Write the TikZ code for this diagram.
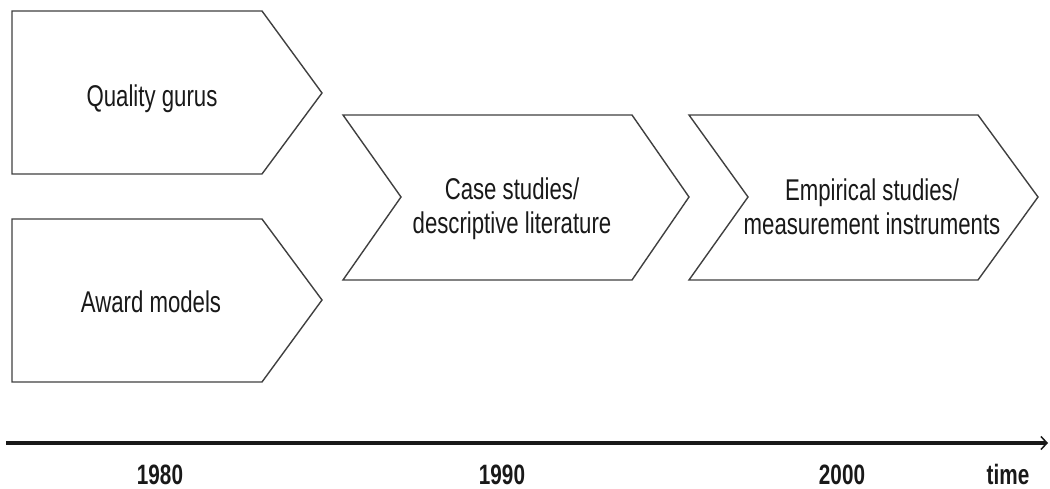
\documentclass[tikz,border=0pt]{standalone}
\usepackage{fontspec}
\setmainfont[FakeStretch=0.74]{Liberation Sans}
\usetikzlibrary{arrows.meta}
\begin{document}
\begin{tikzpicture}[x=1pt,y=1pt,
  phase/.style={draw=black!75, line width=1.4pt, line join=miter, fill=white},
  lbl/.style={font=\fontsize{30}{34}\selectfont, align=center, text=black!90, inner sep=0pt},
  yr/.style={font=\fontsize{28}{31}\selectfont\bfseries, text=black!90, inner sep=0pt, anchor=base}]
\useasboundingbox (0,0) rectangle (1050,489);
% phase shapes
\draw[phase] (12,478) -- (262,478) -- (322,396) -- (262,315) -- (12,315) -- cycle;
\draw[phase] (12,270) -- (262,270) -- (322,189) -- (262,107) -- (12,107) -- cycle;
\draw[phase] (343,374) -- (632,374) -- (689,292) -- (632,209) -- (343,209) -- (401,292) -- cycle;
\draw[phase] (689,374) -- (978,374) -- (1038,292) -- (978,209) -- (689,209) -- (748,292) -- cycle;
% labels
\node[lbl, anchor=base] (gurus) at (152,382) {Quality gurus};
\node[lbl, anchor=base] (award) at (151,176) {Award models};
\node[lbl] (cases) at (512,280) {Case studies/\\descriptive literature};
\node[lbl] (empir) at (872,282) {Empirical studies/\\measurement instruments};
% time axis
\coordinate (axs) at (6,46);
\coordinate (axe) at (1048,46);
\draw[line width=3.4pt, draw=black!90, -{Straight Barb[length=6pt,width=13pt,line width=1.5pt]}] (axs) -- (axe);
\node[yr] (y80) at (160,4) {1980};
\node[yr] (y90) at (502,4) {1990};
\node[yr] (y00) at (842,4) {2000};
\node[yr] (tm) at (1008,4) {time};
\end{tikzpicture}
\end{document}
